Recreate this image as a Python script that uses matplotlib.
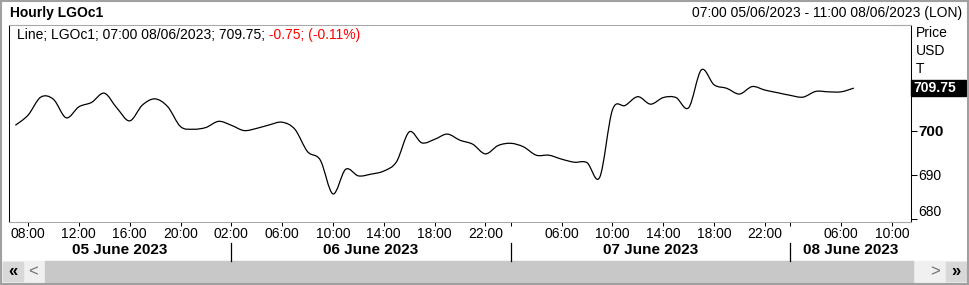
import matplotlib.pyplot as plt
import matplotlib.transforms as mtransforms
from matplotlib.patches import Rectangle, PathPatch
from matplotlib.path import Path
import numpy as np

plt.rcParams['font.family'] = ['Liberation Sans', 'DejaVu Sans']

# 每小时收盘价 LGOc1（交易时段 01:00-22:00 伦敦时间）
hours_0605 = [7, 8, 9, 10, 11, 12, 13, 14, 15, 16, 17, 18, 19, 20, 21, 22]
prices_0605 = [701.3, 703.6, 707.7, 707.2, 703.0, 705.5, 706.5, 708.6,
               705.2, 702.3, 705.9, 707.3, 705.5, 701.0, 700.4, 700.8]
hours_0606 = list(range(1, 23))
prices_0606 = [702.2, 701.3, 700.1, 700.6, 701.4, 702.0, 700.4, 695.3,
               693.4, 685.7, 691.3, 689.8, 690.2, 690.9, 693.0, 699.8,
               697.3, 698.1, 699.3, 697.9, 697.0, 694.8]
hours_0607 = list(range(1, 23))
prices_0607 = [696.7, 697.2, 696.4, 694.5, 694.5, 693.6, 692.9, 692.8,
               689.5, 704.8, 705.8, 707.8, 706.1, 707.6, 707.6, 705.3,
               713.9, 710.5, 709.7, 708.4, 710.1, 709.3]
hours_0608 = [1, 2, 3, 4, 5, 6, 7]
prices_0608 = [708.7, 708.1, 707.7, 709.0, 708.9, 708.9, 709.75]

day_names = ['05 June 2023', '06 June 2023', '07 June 2023', '08 June 2023']
day_hours = [hours_0605, hours_0606, hours_0607, hours_0608]
day_prices = [prices_0605, prices_0606, prices_0607, prices_0608]
tick_hours = [[8, 12, 16, 20], [2, 6, 10, 14, 18, 22],
              [2, 6, 10, 14, 18, 22], [2, 6, 10]]
hidden_ticks = [(2, 2), (3, 2)]   # 与前一天 22:00 重叠的标签不显示

y_ticks = [680, 690, 700]
last_price = 709.75

# 按交易小时序号排列（跳过夜间停盘）
y = np.array(sum(day_prices, []), dtype=float)
x = np.arange(len(y), dtype=float)
day_start = np.cumsum([0] + [len(h) for h in day_hours])


def hour_pos(d, h):
    return day_start[d] + (h - day_hours[d][0])


W, H = 969, 285
fig = plt.figure(figsize=(W / 100, H / 100), dpi=100)
bg = fig.add_axes([0, 0, 1, 1], zorder=0)
bg.set_xlim(0, W)
bg.set_ylim(H, 0)
bg.axis('off')

ax = fig.add_axes([9 / W, 1 - 222 / H, 902 / W, 197 / H], zorder=1)
ax.set_facecolor('none')

# 平滑曲线（Catmull-Rom 转三次贝塞尔，节点为原始数据）
pts = np.column_stack([x, y])
ext = np.vstack([pts[0], pts, pts[-1]])
verts = [pts[0]]
codes = [Path.MOVETO]
for k in range(len(pts) - 1):
    p0, p1, p2, p3 = ext[k], ext[k + 1], ext[k + 2], ext[k + 3]
    verts += [p1 + (p2 - p0) / 6, p2 - (p3 - p1) / 6, p2]
    codes += [Path.CURVE4] * 3
ax.add_patch(PathPatch(Path(verts, codes), facecolor='none',
                       edgecolor='black', lw=0.9))

for s in ['left', 'right']:
    ax.spines[s].set_color('black')
    ax.spines[s].set_linewidth(0.75)
for s in ['top', 'bottom']:
    ax.spines[s].set_color('#a8a8a8')
    ax.spines[s].set_linewidth(0.75)
seg = 21 / 902
for xs, ys in [([0, seg], [1, 1]), ([1 - seg, 1], [1, 1]),
               ([0, seg], [0, 0]), ([1 - seg, 1], [0, 0])]:
    ax.plot(xs, ys, transform=ax.transAxes, color='black', lw=0.75,
            clip_on=False)

# y 轴（右侧）
ax.yaxis.tick_right()
ax.set_yticks(y_ticks, labels=[str(v) for v in y_ticks])
ax.tick_params(axis='y', direction='out', length=4.5, width=0.75, pad=1,
               labelsize=10)
for lbl in ax.get_yticklabels():
    if lbl.get_text() == '700':
        lbl.set_fontweight('bold')
        lbl.set_fontsize(11)
    if lbl.get_text() == '680':
        lbl.set_va('bottom')

# x 轴
xt, xl = [], []
for d, hs in enumerate(tick_hours):
    for h in hs:
        xt.append(hour_pos(d, h))
        xl.append('' if (d, h) in hidden_ticks else f'{h:02d}:00')
ax.set_xticks(xt, labels=xl)
ax.tick_params(axis='x', direction='out', length=3, width=0.75, pad=0.5,
               labelsize=10)

ax.set_xlim(-0.5, hour_pos(3, 11) + 0.5)
ax.set_ylim(700 - 91 / 4.4, 700 + 106 / 4.4)

# 日期分隔线和日期标签
trans = mtransforms.blended_transform_factory(ax.transData, bg.transData)
seps = [hour_pos(d, 2) for d in range(1, 4)]
edges = [-0.5] + seps + [hour_pos(3, 11) + 0.5]
for sx in seps:
    ax.plot([sx, sx], [243, 261], transform=trans, color='black', lw=0.9,
            clip_on=False)
for d, name in enumerate(day_names):
    ax.text((edges[d] + edges[d + 1]) / 2, 250, name, transform=trans,
            ha='center', va='center', fontsize=11, fontweight='bold')

# 标题栏
bg.text(10, 13, 'Hourly LGOc1', ha='left', va='center', fontsize=10,
        fontweight='bold')
bg.text(962, 13, '07:00 05/06/2023 - 11:00 08/06/2023 (LON)', ha='right',
        va='center', fontsize=10)

# 图例文字
t1 = bg.text(17, 35, f'Line; LGOc1; 07:00 08/06/2023; {last_price:.2f};',
             ha='left', va='center', fontsize=10, zorder=5)
bg.annotate(' -0.75; (-0.11%)', xy=(1, 0), xycoords=t1, ha='left',
            va='bottom', fontsize=10, color='#ff0000', zorder=5)

# 右侧单位和最新价
for ty, txt in [(33, 'Price'), (51, 'USD'), (69, 'T')]:
    bg.text(916, ty, txt, ha='left', va='center', fontsize=10)
bg.add_patch(Rectangle((911, 80), 55, 16, color='black', zorder=3))
bg.text(913, 88, f'{last_price:.2f}', ha='left', va='center', fontsize=10,
        fontweight='bold', color='white', zorder=4)

# 底部滚动条
bg.add_patch(Rectangle((0, 261), W, 21, color='#f0f0f0', zorder=1))
bg.add_patch(Rectangle((45, 261), 868, 21, color='#c8c8c8', zorder=2))
bg.add_patch(Rectangle((3, 262), 20, 19, color='#d8d8d8', zorder=2))
bg.add_patch(Rectangle((946, 262), 20, 19, color='#d8d8d8', zorder=2))
bg.text(13, 271.5, '«', ha='center', va='center', fontsize=12,
        fontweight='bold', zorder=3)
bg.text(33, 271.5, '<', ha='center', va='center', fontsize=12,
        color='#707070', zorder=3)
bg.text(935, 271.5, '>', ha='center', va='center', fontsize=12,
        color='#707070', zorder=3)
bg.text(956, 271.5, '»', ha='center', va='center', fontsize=12,
        fontweight='bold', zorder=3)

# 外框
bg.add_patch(Rectangle((0.75, 0.75), W - 1.5, H - 1.5, fill=False,
                       edgecolor='#a0a0a0', lw=1.5, zorder=6))

fig.savefig('out.png', dpi=100)
